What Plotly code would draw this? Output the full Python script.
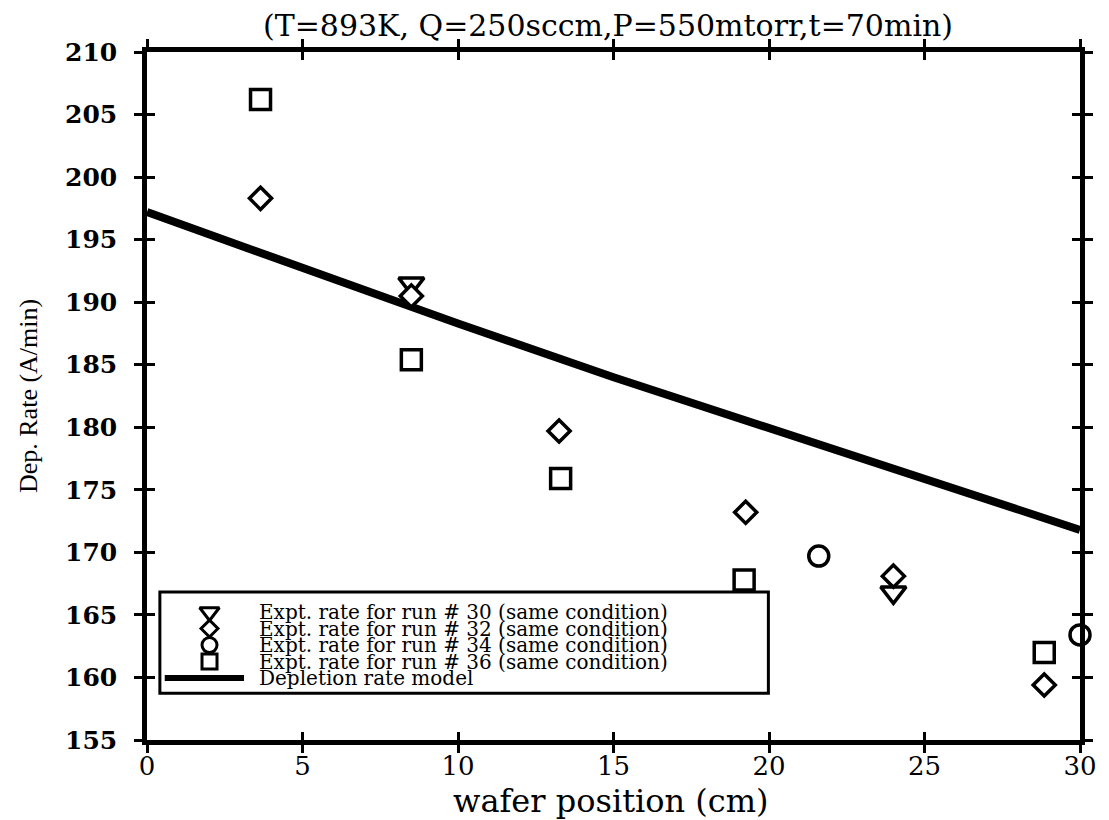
import plotly.graph_objects as go

# Wafer positions (cm) and measured deposition rates (A/min)
run30_x = [8.5, 24.0]
run30_y = [191.5, 166.8]

run32_x = [3.65, 8.5, 13.25, 19.25, 24.0, 28.85]
run32_y = [198.3, 190.5, 179.7, 173.2, 168.1, 159.4]

run34_x = [21.6, 30.0]
run34_y = [169.7, 163.4]

run36_x = [3.65, 8.5, 13.3, 19.2, 28.85]
run36_y = [206.2, 185.4, 175.9, 167.8, 162.0]

# Depletion rate model curve
model_x = [0, 5, 10, 15, 20, 25, 30]
model_y = [197.2, 192.7, 188.3, 184.0, 179.9, 175.8, 171.8]

x_ticks = [0, 5, 10, 15, 20, 25, 30]
y_ticks = [155, 160, 165, 170, 175, 180, 185, 190, 195, 200, 205, 210]

legend_labels = [
    "Expt. rate for run # 30 (same condition)",
    "Expt. rate for run # 32 (same condition)",
    "Expt. rate for run # 34 (same condition)",
    "Expt. rate for run # 36 (same condition)",
    "Depletion rate model",
]

SERIF = "DejaVu Serif"
INK = "black"


def hollow(symbol, size, width=3.5):
    # white-filled symbol with a black outline
    return dict(symbol=symbol, size=size, color="white",
                line=dict(color=INK, width=width))


fig = go.Figure()

fig.add_trace(go.Scatter(x=model_x, y=model_y, mode="lines",
                         line=dict(color=INK, width=8), showlegend=False))
fig.add_trace(go.Scatter(x=run30_x, y=run30_y, mode="markers",
                         marker=hollow("triangle-down", 22),
                         showlegend=False, cliponaxis=False))
fig.add_trace(go.Scatter(x=run32_x, y=run32_y, mode="markers",
                         marker=hollow("diamond", 17),
                         showlegend=False, cliponaxis=False))
fig.add_trace(go.Scatter(x=run34_x, y=run34_y, mode="markers",
                         marker=hollow("circle", 20),
                         showlegend=False, cliponaxis=False))
fig.add_trace(go.Scatter(x=run36_x, y=run36_y, mode="markers",
                         marker=hollow("square", 20),
                         showlegend=False, cliponaxis=False))

# companion axes carrying the inward half of the crossing ticks
fig.add_trace(go.Scatter(x=[], y=[], xaxis="x2", yaxis="y2", showlegend=False))

# hand-built legend: symbols on a hidden unit-square overlay
leg_sym_x = [0.067, 0.067, 0.067, 0.067]
leg_sym_y = [0.186, 0.162, 0.138, 0.114]
leg_symbols = ["triangle-down", "diamond", "circle", "square"]
leg_sizes = [17, 13, 15, 15]
for sx, sy, sym, sz in zip(leg_sym_x, leg_sym_y, leg_symbols, leg_sizes):
    fig.add_trace(go.Scatter(x=[sx], y=[sy], xaxis="x3", yaxis="y3", mode="markers",
                             marker=hollow(sym, sz, 3),
                             showlegend=False, cliponaxis=False))
fig.add_trace(go.Scatter(x=[0.019, 0.104], y=[0.090, 0.090], xaxis="x3", yaxis="y3",
                         mode="lines", line=dict(color=INK, width=6),
                         showlegend=False, cliponaxis=False))

axis_common = dict(showline=True, linecolor=INK, linewidth=4.5, mirror="allticks",
                   ticks="outside", ticklen=8, tickwidth=3, tickcolor=INK,
                   showgrid=False, zeroline=False)

fig.update_layout(
    width=1109, height=820,
    margin=dict(l=147, r=22, t=52, b=80),
    paper_bgcolor="white", plot_bgcolor="white",
    showlegend=False,
    title=dict(text="(T=893K, Q=250sccm,P=550mtorr,t=70min)",
               font=dict(family=SERIF, size=30, color=INK),
               x=608 / 1109, xanchor="center", xref="container",
               y=1 - 25 / 820, yanchor="middle", yref="container"),
    xaxis=dict(range=[0, 30], tickvals=x_ticks, ticktext=[str(v) for v in x_ticks],
               tickfont=dict(family=SERIF, size=26, color=INK),
               ticklabelstandoff=-9, **axis_common),
    yaxis=dict(range=[155, 210], tickvals=y_ticks, ticktext=[str(v) for v in y_ticks],
               tickfont=dict(family=SERIF, size=25, color=INK, weight="bold"),
               ticklabelstandoff=12, **axis_common),
    xaxis2=dict(overlaying="x", matches="x", range=[0, 30], tickvals=x_ticks,
                ticks="inside", ticklen=8, tickwidth=3, tickcolor=INK, mirror="allticks",
                showticklabels=False, showline=False, showgrid=False, zeroline=False),
    yaxis2=dict(overlaying="y", matches="y", range=[155, 210], tickvals=y_ticks,
                ticks="inside", ticklen=8, tickwidth=3, tickcolor=INK, mirror="allticks",
                showticklabels=False, showline=False, showgrid=False, zeroline=False),
    xaxis3=dict(overlaying="x", range=[0, 1], visible=False),
    yaxis3=dict(overlaying="y", range=[0, 1], visible=False),
)

# legend frame
fig.add_shape(type="rect", xref="paper", yref="paper",
              x0=0.0138, x1=0.666, y0=0.068, y1=0.215,
              line=dict(color=INK, width=3), fillcolor="white", layer="below")

leg_text_y = [0.186, 0.162, 0.138, 0.114, 0.090]
for label, ty in zip(legend_labels, leg_text_y):
    fig.add_annotation(text=label, xref="paper", yref="paper", x=0.118, y=ty,
                       xanchor="left", yanchor="middle", showarrow=False,
                       font=dict(family=SERIF, size=20, color=INK))

# axis titles
fig.add_annotation(text="wafer position (cm)", xref="paper", yref="paper",
                   x=0.497, y=-0.088, xanchor="center", yanchor="middle",
                   showarrow=False, font=dict(family=SERIF, size=32, color=INK))
fig.add_annotation(text="Dep. Rate (A/min)", xref="paper", yref="paper",
                   x=-0.1275, y=0.5, xanchor="center", yanchor="middle", textangle=-90,
                   showarrow=False, font=dict(family="Liberation Serif", size=26, color=INK))

fig.write_html("out.html")
